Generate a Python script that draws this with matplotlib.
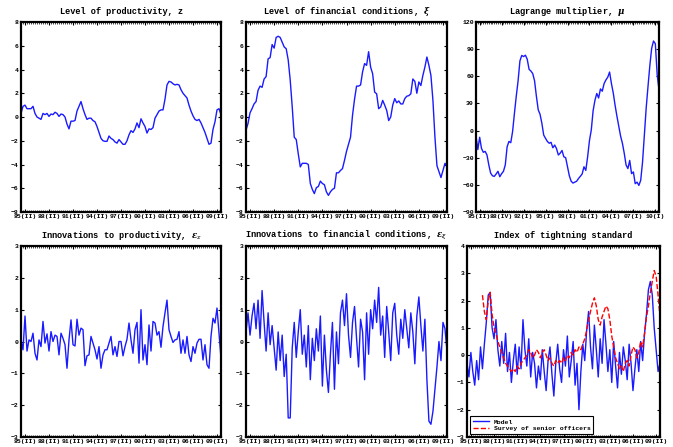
import numpy as np
import matplotlib
matplotlib.use("Agg")
import matplotlib.pyplot as plt
from matplotlib.ticker import MultipleLocator

plt.rcParams['font.family'] = ['Liberation Mono', 'DejaVu Sans Mono']
plt.rcParams['font.weight'] = 'bold'
plt.rcParams['mathtext.fontset'] = 'dejavuserif'

# =====================================================
# Data (quarterly, 85(II) onward)
# =====================================================

date_labels = ['85(II)', '88(II)', '91(II)', '94(II)', '97(II)',
               '00(II)', '03(II)', '06(II)', '09(II)']
mu_labels = ['85(II)', '88(IV)', '92(I)', '95(I)', '98(I)',
             '01(I)', '04(I)', '07(I)', '10(I)']

productivity = [
    0.3, 0.9, 1.0, 0.7, 0.7, 0.7, 0.9, 0.3, 0.0, -0.1,
    -0.2, 0.3, 0.2, 0.3, 0.05, 0.25, 0.2, 0.4, 0.3, 0.05,
    0.25, 0.2, 0.0, -0.6, -1.0, -0.35, -0.35, -0.3, 0.5, 0.9,
    1.3, 0.7, 0.2, -0.2, -0.1, -0.1, -0.3, -0.4, -0.8, -1.3,
    -1.8, -2.0, -2.05, -2.05, -1.6, -1.8, -1.9, -2.1, -2.2, -1.9,
    -2.1, -2.3, -2.3, -2.0, -1.5, -1.15, -1.3, -1.0, -0.5, -0.9,
    -0.15, -0.5, -0.8, -1.35, -1.0, -1.05, -0.9, -0.1, 0.2, 0.5,
    0.6, 0.6, 1.5, 2.7, 3.0, 2.95, 2.8, 2.7, 2.75, 2.7,
    2.3, 2.0, 1.8, 1.6, 1.0, 0.5, 0.1, -0.2, -0.3, -0.2,
    -0.5, -0.9, -1.3, -1.8, -2.3, -2.2, -1.05, -0.4, 0.6, 0.7,
    0.2,
]

financial = [
    -1.1, -0.55, 0.35, 0.7, 1.1, 1.3, 2.25, 2.6, 2.5, 3.2,
    3.4, 4.9, 5.0, 6.1, 5.8, 6.7, 6.8, 6.7, 6.3, 5.9,
    5.75, 4.8, 3.1, 0.85, -1.7, -1.9, -3.1, -4.2, -3.9, -3.9,
    -3.9, -4.0, -5.6, -6.1, -6.45, -5.95, -5.85, -5.4, -5.6, -5.7,
    -6.3, -6.6, -6.3, -6.1, -6.0, -4.7, -4.7, -4.5, -4.35, -3.65,
    -2.9, -2.3, -1.7, 0.15, 1.5, 2.6, 2.6, 2.7, 3.8, 4.5,
    4.35, 5.5, 4.2, 3.65, 2.1, 1.95, 0.7, 0.85, 1.4, 1.0,
    0.55, -0.3, 0.0, 1.0, 1.55, 1.2, 1.35, 1.1, 1.1, 1.55,
    1.75, 1.8, 1.95, 3.2, 3.0, 2.0, 2.95, 2.65, 3.5, 4.2,
    5.05, 4.35, 3.5, 1.4, -1.7, -4.1, -4.6, -5.1, -4.5, -3.9,
    -4.2,
]

lagrange = [
    -6, -21, -7.4, -19.7, -24, -23, -27, -38, -47, -50,
    -50.6, -48, -45, -51, -47.6, -45, -38, -18, -12, -13.4,
    -1, 19, 38, 55, 77, 83, 81.8, 83.3, 78.8, 67.7,
    65.8, 63, 55, 38, 23, 18, 8, -5, -8.6, -12,
    -14, -13, -19, -16, -20, -27, -25, -22, -29, -30,
    -40, -50, -56, -58, -57, -56, -53, -50.6, -48, -40,
    -44, -29, -11, 0.7, 22, 33.5, 41, 36, 46, 43.5,
    52, 56, 59, 64.7, 52, 41.6, 28, 16, 5, -6,
    -14, -25, -38, -42, -33, -47.6, -45.7, -58.7, -57, -60.6,
    -55, -35, -5, 25, 49, 72, 91, 99, 96, 62,
    45,
]

eps_z = [
    0.05, -0.26, 0.8, -0.3, 0.05, 0.0, 0.26, -0.37, -0.58, 0.05,
    -0.16, 0.63, -0.05, 0.24, -0.3, 0.31, 0.0, 0.2, 0.16, -0.42,
    0.26, 0.1, -0.1, -0.84, 0.05, 0.68, -0.1, -0.14, 0.7, 0.2,
    0.42, 0.37, -0.76, -0.45, -0.42, 0.16, -0.05, -0.26, -0.55, -0.16,
    -0.84, -0.42, -0.26, -0.26, -0.05, 0.16, -0.42, -0.16, -0.47, 0.0,
    0.0, -0.45, -0.16, 0.07, 0.58, 0.05, -0.37, 0.37, 0.6, -0.68,
    1.0, -0.58, -0.1, -0.73, 0.52, -0.3, 0.63, 0.58, 0.2, 0.31,
    -0.18, 0.47, 0.9, 1.3, 0.37, 0.16, -0.03, 0.05, 0.07, 0.31,
    -0.37, 0.05, -0.37, 0.16, -0.42, -0.63, -0.16, -0.37, -0.05, 0.07,
    0.07, -0.58, -0.1, -0.73, -0.84, 0.16, 0.73, 0.58, 1.05, 0.26,
    -0.52,
]

eps_xi = [
    0.3, 0.9, 0.2, 0.8, 1.2, 0.4, 1.3, 0.1, 1.6, 0.6,
    -0.3, 0.9, -0.1, 0.5, -0.2, -0.9, 0.3, -0.6, 0.2, -1.1,
    -0.4, -2.4, -2.4, -0.2, 0.6, -0.5, 0.3, 1.0, -0.4, 0.2,
    -0.8, 0.5, -1.2, 0.1, -0.6, 0.4, -0.3, 0.8, -1.4, 0.2,
    -0.9, -1.6, -0.4, 0.6, -1.5, 0.3, -0.7, 0.9, 1.3, 0.5,
    1.5, 0.2, -0.5, 0.6, 1.1, 0.1, -0.8, 0.7, 0.3, -1.2,
    0.9, -0.4, 1.0, 0.4, 1.3, 0.6, 1.7, 0.2, 0.8, -0.5,
    1.1, 0.3, -0.6, 0.9, 1.2, 0.2, -0.4, 0.7, 0.1, 1.0,
    0.4, -0.2, 0.9, 0.3, -0.7, 0.8, 1.4, 0.5, -0.3, 0.7,
    -1.2, -2.5, -2.6, -2.2, -1.5, -0.8, 0.0, -0.6, 0.6, 0.4,
    -0.3,
]

tight_model = [
    -0.3, -0.8, 0.1, -0.6, -1.1, -0.2, -0.9, 0.3, -0.5, 0.4,
    1.2, 2.2, 2.3, 1.0, 0.6, 1.3, 0.2, -0.4, 0.5, -0.3,
    0.8, -0.6, 0.1, -1.0, -0.2, 0.4, -0.7, 0.3, -0.5, 1.3,
    0.2, -0.4, 0.6, -0.8, 0.1, -0.3, -1.2, -0.4, -0.9, 0.2,
    -0.6, -1.3, -0.2, 0.3, -0.7, -1.5, -0.3, 0.4, -0.5, -1.0,
    0.2, -0.4, 0.7, -0.8, -0.2, 0.5, -1.1, -0.3, -2.0, -0.6,
    0.4, -0.2, 0.9, 1.6, 0.3, -0.5, 1.1, 0.2, -0.8, 0.6,
    -0.3, 1.3, 0.4, -0.6, 0.2, -1.0, 0.5, -0.4, -1.2, 0.1,
    -0.7, 0.3, -0.2, -0.9, 0.4, -0.3, -1.3, -0.5, 0.2, -0.6,
    0.5, -0.2, 0.8, 1.5, 2.4, 2.7, 2.2, 1.0, 0.2, -0.6,
    -0.3,
]

survey_start = 8
tight_survey = [
    2.2, 1.6, 1.3, 2.0, 2.3, 1.5, 1.0, 0.8, 0.5, 0.3,
    0.1, -0.1, -0.3, -0.4, -0.5, -0.6, -0.5, -0.6, -0.4, -0.5,
    -0.3, -0.2, -0.1, 0.0, 0.2, 0.1, -0.1, 0.0, 0.2, 0.1,
    -0.1, 0.1, 0.2, 0.0, -0.2, -0.1, -0.3, -0.4, -0.2, -0.3,
    -0.2, -0.3, -0.1, -0.2, 0.0, -0.1, 0.1, 0.0, 0.2, 0.1,
    0.3, 0.2, 0.4, 0.6, 0.9, 1.3, 1.6, 1.9, 2.1, 1.8,
    1.3, 1.1, 1.4, 1.6, 1.8, 1.7, 1.3, 0.7, 0.3, -0.1,
    -0.3, -0.5, -0.4, -0.6, -0.3, -0.2, -0.4, 0.0, 0.3, 0.2,
    -0.1, 0.1, 0.5, 0.3, 0.8, 1.4, 1.8, 2.3, 2.7, 3.1,
    2.9, 2.2, 1.4,
]

# =====================================================
# Axes helper
# =====================================================

FS_TITLE = 6.2
FS_TICK = 4.6


def style_axes(ax, ylim, ystep, labels, title):
    ax.set_xlim(0, 100)
    ax.set_ylim(*ylim)
    ax.set_xticks(np.arange(2, 100, 12))
    ax.set_xticklabels(labels)
    ax.xaxis.set_minor_locator(MultipleLocator(1))
    ax.set_yticks(np.arange(ylim[0], ylim[1] + ystep / 2, ystep))
    ax.tick_params(which='both', direction='in', top=True, right=True,
                   labelsize=FS_TICK, pad=1.5)
    ax.tick_params(which='major', length=2.5, width=0.8)
    ax.tick_params(which='minor', length=1.5, width=0.5)
    for s in ax.spines.values():
        s.set_linewidth(1.6)
    for lab in ax.get_xticklabels() + ax.get_yticklabels():
        lab.set_fontweight('bold')
    ax.set_title(title, fontsize=FS_TITLE, fontweight='bold', pad=6)


fig = plt.figure(figsize=(6.73, 4.47), dpi=100)

W, H = 673.0, 447.0


def add_axes(x0, y0, x1, y1):
    return fig.add_axes([x0 / W, 1 - y1 / H, (x1 - x0) / W, (y1 - y0) / H])


blue = (0.1, 0.1, 1.0)

ax = add_axes(21, 22, 221, 212)
ax.plot(np.arange(len(productivity)), productivity, color=blue, lw=1.0)
style_axes(ax, (-8, 8), 2, date_labels, 'Level of productivity, z')

ax = add_axes(246, 22, 447, 212)
ax.plot(np.arange(len(financial)), financial, color=blue, lw=1.0)
style_axes(ax, (-8, 8), 2, date_labels,
           r'Level of financial conditions, $\xi$')

ax = add_axes(476, 22, 659, 212)
ax.plot(np.arange(len(lagrange)), lagrange, color=blue, lw=1.0)
style_axes(ax, (-90, 120), 30, mu_labels, r'Lagrange multiplier, $\mu$')

ax = add_axes(21, 246, 221, 437)
ax.plot(np.arange(len(eps_z)), eps_z, color=blue, lw=1.0)
style_axes(ax, (-3, 3), 1, date_labels,
           r'Innovations to productivity, $\epsilon_z$')

ax = add_axes(246, 246, 447, 437)
ax.plot(np.arange(len(eps_xi)), eps_xi, color=blue, lw=1.0)
style_axes(ax, (-3, 3), 1, date_labels,
           r'Innovations to financial conditions, $\epsilon_\xi$')

ax = add_axes(467, 246, 660, 437)
ax.plot(np.arange(len(tight_model)), tight_model, color=blue, lw=1.0,
        label='Model')
ax.plot(np.arange(len(tight_survey)) + survey_start, tight_survey,
        color='red', lw=1.0, ls='--', label='Survey of senior officers')
style_axes(ax, (-3, 4), 1, date_labels, 'Index of tightning standard')
leg = ax.legend(loc='lower left', fontsize=FS_TICK, fancybox=False,
                framealpha=1, edgecolor='black', borderpad=0.4,
                handlelength=2.5, labelspacing=0.2,
                prop={'family': 'Liberation Mono', 'weight': 'bold',
                      'size': FS_TICK})
leg.get_frame().set_linewidth(0.8)

fig.savefig('out.png', dpi=100)
